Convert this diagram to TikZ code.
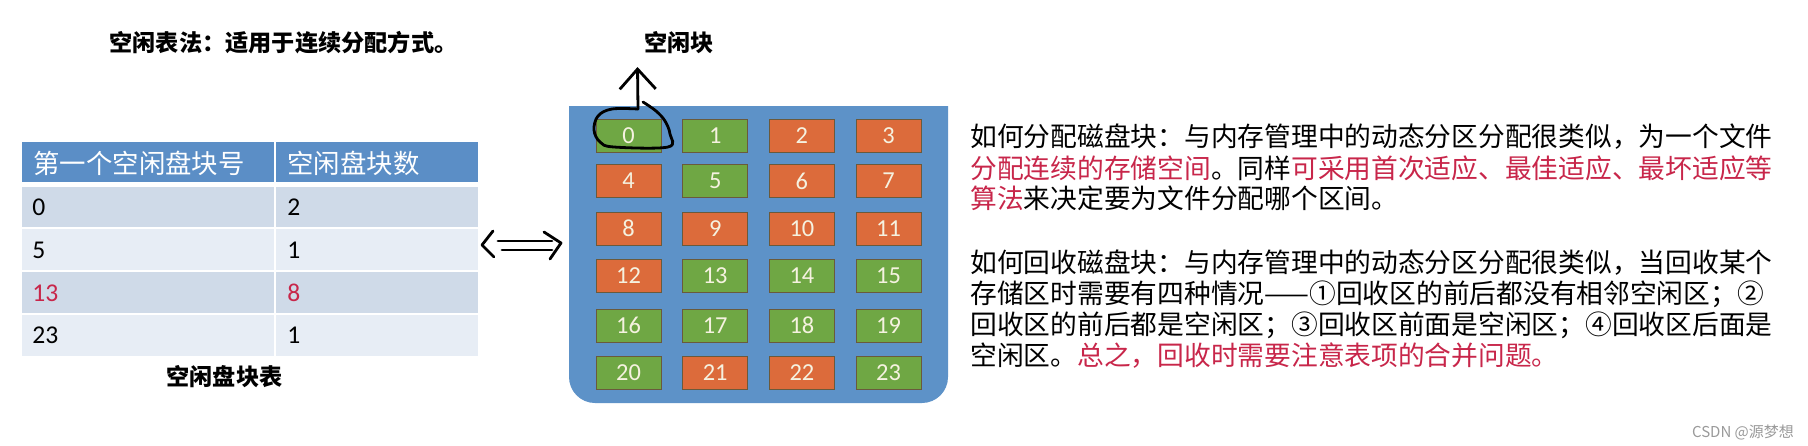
\documentclass[tikz,border=0pt]{standalone}
\usepackage{fontspec}
\setmainfont{Noto Sans CJK SC}
\newfontfamily\cjk{Noto Sans CJK SC}
\newfontfamily\numf{Carlito}
\usetikzlibrary{arrows.meta}
\definecolor{hdr}{HTML}{5B8EC6}
\definecolor{rowdark}{HTML}{CFDAE8}
\definecolor{rowlight}{HTML}{E7EDF5}
\definecolor{panel}{HTML}{5D92C8}
\definecolor{gblk}{HTML}{6FA744}
\definecolor{oblk}{HTML}{DC6B3B}
\definecolor{blkedge}{HTML}{6A5A3C}
\definecolor{blktext}{HTML}{F5F2E0}
\definecolor{redtxt}{HTML}{C8264A}
\definecolor{mark}{HTML}{9A9A9A}
\tikzset{
  blk/.style={draw=blkedge, line width=0.5pt, minimum width=32.5pt, minimum height=16.5pt, inner sep=0pt,
    text=blktext, font=\numf\fontsize{12.2pt}{14pt}\selectfont},
  gb/.style={blk, fill=gblk},
  ob/.style={blk, fill=oblk},
  boldlbl/.style={font=\cjk\bfseries\fontsize{11.6pt}{14pt}\selectfont, inner sep=0pt},
  hdrtxt/.style={anchor=west, inner sep=0pt, text=white, font=\cjk\fontsize{13.2pt}{15pt}\selectfont},
  celltxt/.style={anchor=west, inner sep=0pt, font=\numf\fontsize{12.8pt}{15pt}\selectfont},
  para/.style={anchor=west, inner sep=0pt, font=\cjk\fontsize{13.37pt}{15pt}\selectfont},
  hand/.style={line width=1.4pt, line cap=round, line join=round},
}
\newcommand{\rd}[1]{\textcolor{redtxt}{#1}}
\begin{document}
\begin{tikzpicture}[x=0.5pt,y=-0.5pt]
\useasboundingbox (0,0) rectangle (1808,445);
\fill[white] (0,0) rectangle (1808,445);

% titles
\node[boldlbl, anchor=west] (title) at (109,43) {空闲表法：适用于连续分配方式。};
\node[boldlbl] (freeblk) at (679,43) {空闲块};
\node[boldlbl] (tblcap) at (224.5,377) {空闲盘块表};

% table
\fill[hdr] (22,142) rectangle (478,182);
\fill[rowdark] (22,187) rectangle (478,227);
\fill[rowlight] (22,229) rectangle (478,270);
\fill[rowdark] (22,272) rectangle (478,313);
\fill[rowlight] (22,315) rectangle (478,356);
\draw[white, line width=1.2pt] (275,142) -- (275,356);
\node[hdrtxt] (h1) at (33,163) {第一个空闲盘块号};
\node[hdrtxt] (h2) at (287,163) {空闲盘块数};
\node[celltxt] (a1) at (32,207) {0};
\node[celltxt] (b1) at (287,207) {2};
\node[celltxt] (a2) at (32,250) {5};
\node[celltxt] (b2) at (287,250) {1};
\node[celltxt, text=redtxt] (a3) at (32,293) {13};
\node[celltxt, text=redtxt] (b3) at (287,293) {8};
\node[celltxt] (a4) at (32,335) {23};
\node[celltxt] (b4) at (287,335) {1};

% double arrow
\coordinate (dl) at (482,245);
\coordinate (dr) at (561,243);
\draw[hand] (493,231) -- (dl) -- (494,257);
\draw[hand] (544,232) -- (dr) -- (550,259);
\draw[hand] (498,241) -- (552,241);
\draw[hand] (502,250) -- (552,250);

% panel
\fill[panel] (569,106) -- (948,106) [rounded corners=13pt] -- (948,403) -- (569,403) [sharp corners] -- cycle;

% blocks
\foreach \n/\s [count=\i from 0] in {0/gb,1/gb,2/ob,3/ob,4/ob,5/gb,6/ob,7/ob,8/ob,9/ob,10/ob,11/ob,12/ob,13/gb,14/gb,15/gb,16/gb,17/gb,18/gb,19/gb,20/gb,21/ob,22/ob,23/gb}{
  \pgfmathtruncatemacro{\c}{mod(\i,4)}
  \pgfmathtruncatemacro{\r}{div(\i,4)}
  \pgfmathsetmacro{\xx}{628.5+86.7*\c}
  \pgfmathsetmacro{\yy}{{135.5,181,228.5,275.5,325.5,373}[\r]}
  \node[\s] (b\n) at (\xx,\yy) {\n};
}

% hand-drawn loop and arrow
\coordinate (loopstart) at (638,109);
\draw[hand] plot[smooth, tension=0.6] coordinates {(638,109) (612,109) (598,116) (594,130) (600,142) (614,147) (668,147) (670,134) (665,121) (656,111) (643,102)};
\draw[hand, -{Straight Barb[length=10pt,width=18pt,line width=1.4pt]}] (loopstart) -- (637.5,67);

% right text
\node[para] (p1) at (970,137) {如何分配磁盘块：与内存管理中的动态分区分配很类似，为一个文件};
\node[para] (p2) at (970,168) {\rd{分配连续的存储空间}。同样\rd{可采用首次适应、最佳适应、最坏适应等}};
\node[para] (p3) at (970,198) {\rd{算法}来决定要为文件分配哪个区间。};
\node[para] (p4) at (970,263) {如何回收磁盘块：与内存管理中的动态分区分配很类似，当回收某个};
\node[para] (p5) at (970,294) {存储区时需要有四种情况——①回收区的前后都没有相邻空闲区；②};
\node[para] (p6) at (970,325) {回收区的前后都是空闲区；③回收区前面是空闲区；④回收区后面是};
\node[para] (p7) at (970,356) {空闲区。\rd{总之，回收时需要注意表项的合并问题。}};

% watermark
\node[inner sep=0pt, text=mark, font=\cjk\fontsize{7.5pt}{9pt}\selectfont] (wm) at (1743,432) {CSDN @源梦想};
\end{tikzpicture}
\end{document}
